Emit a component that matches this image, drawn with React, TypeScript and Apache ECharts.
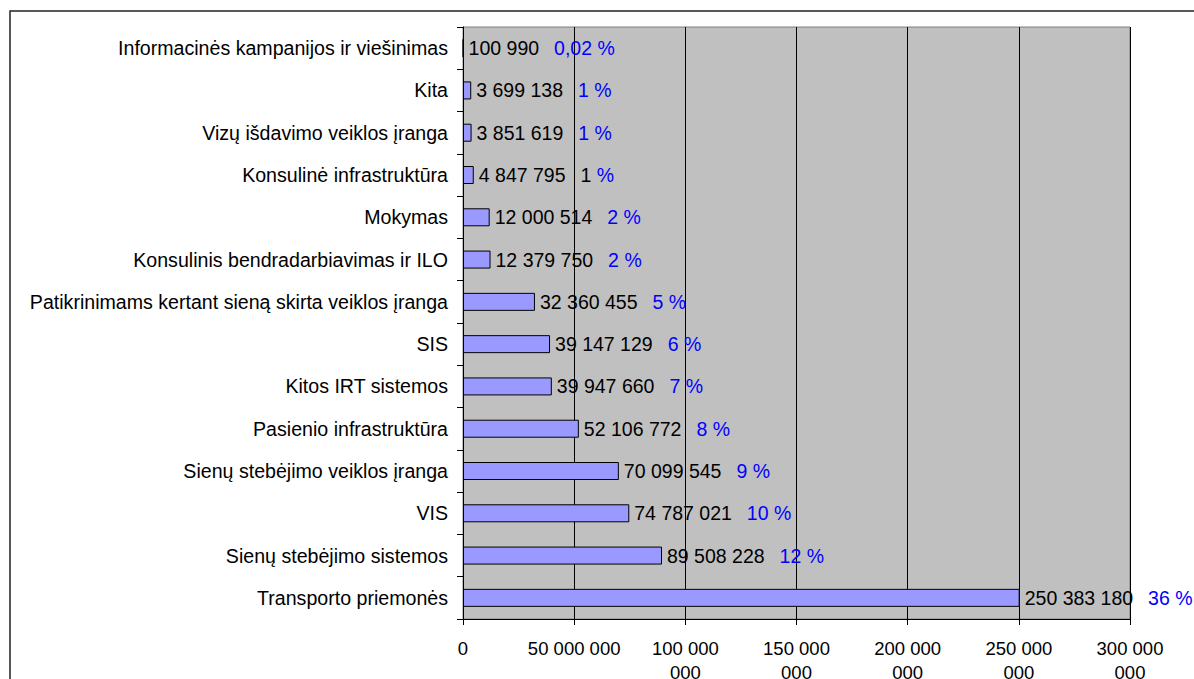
import React, { useEffect, useRef } from "react";
import * as echarts from "echarts";

const categories = [
  "Informacinės kampanijos ir viešinimas",
  "Kita",
  "Vizų išdavimo veiklos įranga",
  "Konsulinė infrastruktūra",
  "Mokymas",
  "Konsulinis bendradarbiavimas ir ILO",
  "Patikrinimams kertant sieną skirta veiklos įranga",
  "SIS",
  "Kitos IRT sistemos",
  "Pasienio infrastruktūra",
  "Sienų stebėjimo veiklos įranga",
  "VIS",
  "Sienų stebėjimo sistemos",
  "Transporto priemonės",
];

const values = [
  100990, 3699138, 3851619, 4847795, 12000514, 12379750, 32360455, 39147129,
  39947660, 52106772, 70099545, 74787021, 89508228, 250383180,
];

const valueLabels = [
  "100 990", "3 699 138", "3 851 619", "4 847 795", "12 000 514", "12 379 750",
  "32 360 455", "39 147 129", "39 947 660", "52 106 772", "70 099 545",
  "74 787 021", "89 508 228", "250 383 180",
];

const percentNumbers = [
  "0,02", "1", "1", "1", "2", "2", "5", "6", "7", "8", "9", "10", "12", "36",
];

// index whose percent number appears in black in the reference
const blackPercentNumber = [3];

const xTickLabels = [
  "0",
  "50 000 000",
  "100 000\n000",
  "150 000\n000",
  "200 000\n000",
  "250 000\n000",
  "300 000\n000",
];

const FONT = "'Liberation Sans', Arial, sans-serif";
const FS = 19.6;
const VFS = 19.5;

export default function App() {
  const ref = useRef<HTMLDivElement>(null);

  useEffect(() => {
    document.body.style.margin = "0";
    if (!ref.current) return;
    const chart = echarts.init(ref.current, null, { renderer: "svg" });

    const option = {
      animation: false,
      backgroundColor: "#ffffff",
      textStyle: { fontFamily: FONT },
      graphic: [
        {
          type: "rect",
          shape: { x: 10, y: 11, width: 1300, height: 800 },
          style: { fill: "none", stroke: "#222", lineWidth: 1.5 },
          silent: true,
          z: 100,
        },
      ],
      grid: {
        left: 463,
        top: 27,
        right: 64,
        bottom: 60,
        outerBoundsMode: "none",
        containLabel: false,
        show: true,
        backgroundColor: "#C0C0C0",
        borderColor: "#808080",
        borderWidth: 1,
      },
      xAxis: {
        type: "value",
        min: 0,
        max: 300000000,
        interval: 50000000,
        axisLine: { show: true, lineStyle: { color: "#000", width: 1 } },
        axisTick: { show: true, length: 6, lineStyle: { color: "#000" } },
        splitLine: { show: true, lineStyle: { color: "#000", width: 1 } },
        axisLabel: {
          color: "#000",
          fontSize: 18.5,
          fontFamily: FONT,
          lineHeight: 24,
          margin: 17,
          formatter: (v: number) => xTickLabels[Math.round(v / 50000000)] ?? "",
        },
      },
      yAxis: {
        type: "category",
        data: categories,
        inverse: true,
        axisLine: { show: true, lineStyle: { color: "#000", width: 1 } },
        axisTick: { show: true, length: 6, lineStyle: { color: "#000" } },
        splitLine: { show: false },
        axisLabel: {
          color: "#000",
          fontSize: FS,
          fontFamily: FONT,
          margin: 15,
        },
      },
      series: [
        {
          type: "bar",
          data: values,
          barWidth: 18,
          itemStyle: { color: "#9999FF", borderColor: "#000", borderWidth: 1 },
          label: {
            show: true,
            position: "right",
            distance: 5,
            fontFamily: FONT,
            formatter: (p: any) => {
              const i = p.dataIndex;
              const num = percentNumbers[i];
              if (blackPercentNumber.includes(i)) {
                return `{v|${valueLabels[i]}}{k|${num}}{p| %}`;
              }
              return `{v|${valueLabels[i]}}{g|}{p|${num} %}`;
            },
            rich: {
              v: { color: "#000", fontSize: VFS, fontFamily: FONT },
              g: { width: 15, fontSize: VFS },
              k: { color: "#000", fontSize: VFS, fontFamily: FONT, padding: [0, 0, 0, 15] },
              p: { color: "#0000FF", fontSize: VFS, fontFamily: FONT },
            },
          },
        },
      ],
    };

    chart.setOption(option as any);
    return () => chart.dispose();
  }, []);

  return <div ref={ref} style={{ width: 1194, height: 679 }} />;
}
